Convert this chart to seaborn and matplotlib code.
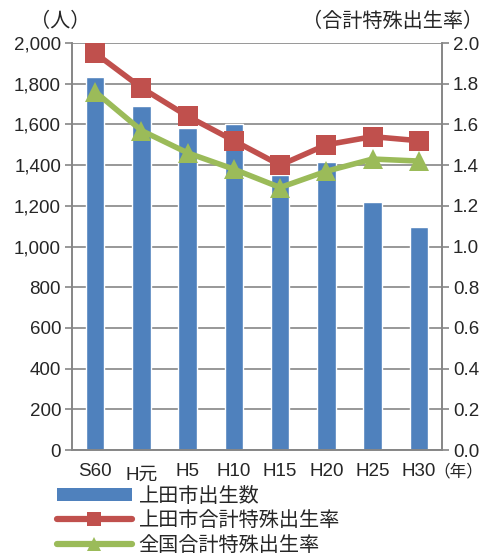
import matplotlib
matplotlib.use("Agg")
import matplotlib.pyplot as plt
import seaborn as sns
import pandas as pd
from matplotlib.patches import Patch
from matplotlib.lines import Line2D

years = ["S60", "H元", "H5", "H10", "H15", "H20", "H25", "H30"]
births = [1835, 1692, 1582, 1602, 1350, 1417, 1217, 1097]
ueda_tfr = [1.95, 1.78, 1.64, 1.52, 1.40, 1.50, 1.54, 1.52]
japan_tfr = [1.76, 1.57, 1.46, 1.38, 1.29, 1.37, 1.43, 1.42]

labels = ["上田市出生数", "上田市合計特殊出生率", "全国合計特殊出生率"]

sns.set_style("white")
plt.rcParams["font.family"] = ["Liberation Sans", "Noto Sans CJK JP"]

bar_color = "#4f81bd"
red = "#c0504d"
green = "#9bbb59"
grid_color = "#868686"

df = pd.DataFrame({"year": years, "births": births,
                   "ueda": ueda_tfr, "japan": japan_tfr})

fig = plt.figure(figsize=(4.84, 5.55), dpi=100)
ax = fig.add_axes([0.149, 0.189, 0.764, 0.7335])

sns.barplot(data=df, x="year", y="births", color=bar_color, width=0.4,
            saturation=1, ax=ax, zorder=2)
ax.set_ylim(0, 2000)
ax.set_yticks(range(0, 2001, 200))
ax.set_yticklabels([f"{v:,}" for v in range(0, 2001, 200)])
ax.yaxis.grid(True, color=grid_color, linewidth=1.2, zorder=0)
ax.set_axisbelow(True)
ax.set_xlabel("")
ax.set_ylabel("")
ax.set_xlim(-0.5, len(years) - 0.5)

# tick marks between categories, labels at centres
ax.set_xticks([i - 0.5 for i in range(len(years) + 1)], minor=False)
ax.set_xticklabels([])
ax.set_xticks(range(len(years)), minor=True)
ax.set_xticklabels(years, minor=True)
ax.tick_params(axis="x", which="major", length=5, color=grid_color, width=1.2)
ax.tick_params(axis="x", which="minor", length=0, labelsize=13.5, pad=9)
for lbl in ax.get_xticklabels(minor=True):
    if lbl.get_text() == "H元":
        lbl.set_y(-0.01)
ax.tick_params(axis="y", length=5, color=grid_color, width=1.2, labelsize=13.5, pad=3)

for side in ["left", "right", "bottom"]:
    ax.spines[side].set_color(grid_color)
    ax.spines[side].set_linewidth(1.2)
ax.spines["top"].set_visible(False)

ax2 = ax.twinx()
sns.lineplot(x=list(range(len(years))), y=ueda_tfr, ax=ax2, color=red,
             linewidth=4, marker="s", markersize=14, markeredgewidth=0,
             zorder=3)
sns.lineplot(x=list(range(len(years))), y=japan_tfr, ax=ax2, color=green,
             linewidth=4, marker="^", markersize=15, markeredgewidth=0,
             zorder=4)
ax2.set_ylim(0, 2.0)
ax2.set_yticks([i / 10 for i in range(0, 21, 2)])
ax2.set_yticklabels([f"{i / 10:.1f}" for i in range(0, 21, 2)])
ax2.tick_params(axis="y", length=5, color=grid_color, width=1.2, labelsize=13.5, pad=3)
ax2.set_xlim(-0.5, len(years) - 0.5)
for side in ["left", "right", "bottom"]:
    ax2.spines[side].set_color(grid_color)
    ax2.spines[side].set_linewidth(1.2)
ax2.spines["top"].set_visible(False)

fig.text(0.062, 0.962, "（人）", fontsize=14.5, va="center")
fig.text(0.625, 0.962, "（合計特殊出生率）", fontsize=14.5, va="center")
fig.text(0.998, 0.15, "（年）", fontsize=12, va="center", ha="right")

handles = [
    Patch(facecolor=bar_color, edgecolor="none"),
    Line2D([], [], color=red, linewidth=4.5, marker="s", markersize=10,
           markeredgewidth=0),
    Line2D([], [], color=green, linewidth=4.5, marker="^", markersize=10,
           markeredgewidth=0),
]
fig.legend(handles, labels, loc="upper left", bbox_to_anchor=(0.118, 0.123),
           frameon=False, fontsize=14.5, handlelength=3.7, handleheight=0.6,
           handletextpad=0.35, labelspacing=0.27, borderpad=0, borderaxespad=0)

fig.savefig("out.png", dpi=100)
